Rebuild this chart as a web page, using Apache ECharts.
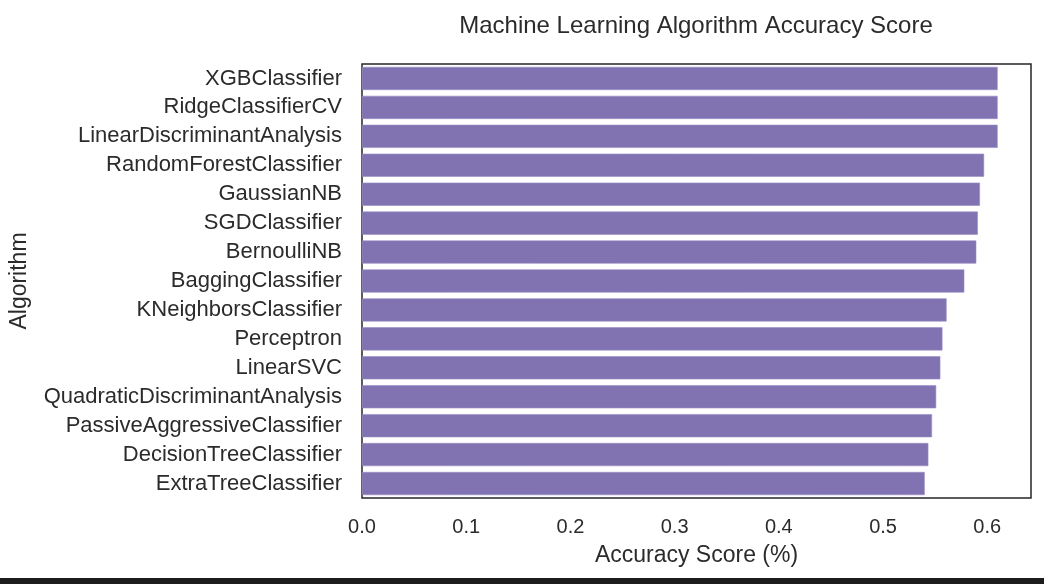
<!DOCTYPE html>
<html>
<head>
<meta charset="utf-8">
<script src="https://cdn.jsdelivr.net/npm/echarts@6/dist/echarts.min.js"></script>
<style>html,body{margin:0;padding:0;background:#fff}#c{width:1044px;height:584px}</style>
</head>
<body>
<div id="c"></div>
<script>
const algorithms = ["XGBClassifier","RidgeClassifierCV","LinearDiscriminantAnalysis","RandomForestClassifier","GaussianNB","SGDClassifier","BernoulliNB","BaggingClassifier","KNeighborsClassifier","Perceptron","LinearSVC","QuadraticDiscriminantAnalysis","PassiveAggressiveClassifier","DecisionTreeClassifier","ExtraTreeClassifier"];
const accuracy = [0.610,0.610,0.610,0.597,0.593,0.591,0.5895,0.578,0.561,0.557,0.555,0.551,0.547,0.5435,0.540];
const xTicks = [0.0,0.1,0.2,0.3,0.4,0.5,0.6];

const chart = echarts.init(document.getElementById('c'), null, {renderer:'canvas'});
const font = 'Liberation Sans, Arial, sans-serif';
chart.setOption({
  animation:false,
  backgroundColor:'#ffffff',
  title:{text:'Machine Learning Algorithm Accuracy Score', left:691, top:9, textAlign:'center',
    textStyle:{fontFamily:font,fontSize:24,fontWeight:'normal',color:'#2b2b2b'}},
  grid:{left:360,right:13,top:64,bottom:86,show:true,borderColor:'#262626',borderWidth:1.5,backgroundColor:'transparent'},
  xAxis:{type:'value',min:0,max:0.642,interval:0.1,
    name:'Accuracy Score (%)',nameLocation:'middle',nameGap:46,
    nameTextStyle:{fontFamily:font,fontSize:23,color:'#2b2b2b'},
    axisLine:{show:false},axisTick:{show:false},splitLine:{show:false},
    axisLabel:{showMaxLabel:false,margin:19,fontFamily:font,fontSize:20,color:'#2b2b2b',
      formatter:v=>{const t=xTicks.find(x=>Math.abs(x-v)<1e-6);return t===undefined?'':t.toFixed(1);}}},
  yAxis:{type:'category',data:algorithms,inverse:true,
    name:'Algorithm',nameLocation:'middle',nameGap:331,nameRotate:90,
    nameTextStyle:{fontFamily:font,fontSize:23,color:'#2b2b2b'},
    axisLine:{show:false},axisTick:{show:false},splitLine:{show:false},
    axisLabel:{margin:20,fontFamily:font,fontSize:22,color:'#2b2b2b'}},
  series:[{type:'bar',data:accuracy,barWidth:'80%',
    itemStyle:{color:'#8172b2',borderColor:'#9a8fc4',borderWidth:0.6}}],
  graphic:[{type:'rect',shape:{x:0,y:578,width:1044,height:6},style:{fill:'#1c1c1c'},silent:true}]
});
</script>
</body>
</html>
